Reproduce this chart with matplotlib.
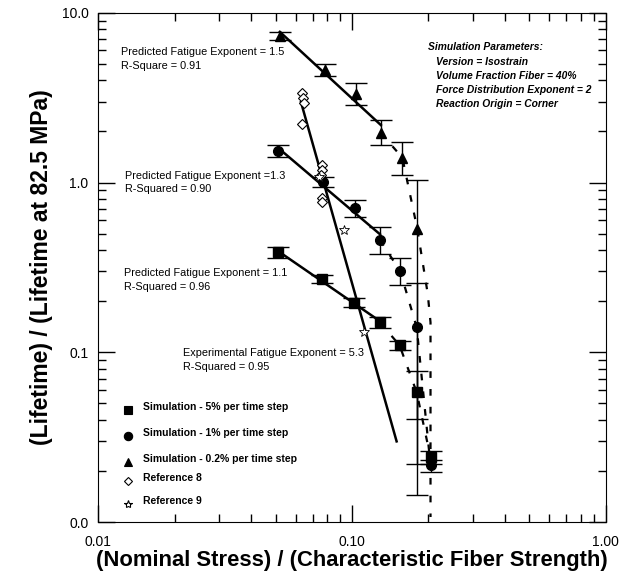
import numpy as np
import matplotlib
matplotlib.use("Agg")
import matplotlib.pyplot as plt
from matplotlib.ticker import FixedLocator, LogLocator, NullFormatter

plt.rcParams['font.family'] = ['Liberation Sans', 'DejaVu Sans']

# Simulation - 5% per time step (squares)
sq_x = [0.051, 0.076, 0.102, 0.129, 0.154, 0.180, 0.204]
sq_y = [0.389, 0.270, 0.195, 0.150, 0.110, 0.058, 0.024]
sq_lo = [0.359, 0.255, 0.184, 0.139, 0.103, 0.0403, 0.0221]
sq_hi = [0.416, 0.285, 0.208, 0.161, 0.116, 0.0773, 0.0261]

# Simulation - 1% per time step (circles)
ci_x = [0.051, 0.077, 0.103, 0.129, 0.155, 0.180, 0.204]
ci_y = [1.53, 1.01, 0.707, 0.458, 0.300, 0.140, 0.0216]
ci_lo = [1.41, 0.94, 0.626, 0.378, 0.248, 0.0221, 0.0196]
ci_hi = [1.66, 1.08, 0.789, 0.546, 0.359, 0.255, 0.0231]

# Simulation - 0.2% per time step (triangles)
tr_x = [0.052, 0.078, 0.104, 0.130, 0.158, 0.181]
tr_y = [7.32, 4.61, 3.33, 1.96, 1.40, 0.532]
tr_lo = [6.93, 4.25, 2.87, 1.66, 1.11, 0.0145]
tr_hi = [7.73, 5.00, 3.87, 2.34, 1.74, 1.04]

# dashed trend beyond the fitted range
tr_dash_x = [0.130, 0.158, 0.181, 0.199, 0.204, 0.204]
tr_dash_y = [1.96, 1.40, 0.532, 0.22, 0.15, 0.0107]
sq_dash_x = [0.129, 0.154, 0.180, 0.204]
sq_dash_y = [0.150, 0.110, 0.058, 0.024]
ci_dash_x = [0.129, 0.155, 0.180, 0.204]
ci_dash_y = [0.458, 0.300, 0.140, 0.0216]

# Reference 8 (diamonds), Reference 9 (stars)
r8_x = [0.0638, 0.0642, 0.0647, 0.0638, 0.0765, 0.0765, 0.0752, 0.0765, 0.0765]
r8_y = [3.37, 3.15, 2.94, 2.21, 1.27, 1.19, 1.11, 0.81, 0.77]
r9_x = [0.074, 0.0929, 0.112]
r9_y = [1.08, 0.525, 0.131]

n_fit = 4  # points used for the predicted exponent fits


def fit_line(x, y, n, xr=None):
    p = np.polyfit(np.log10(x[:n]), np.log10(y[:n]), 1)
    if xr is None:
        xr = [x[0], x[n - 1]]
    xx = np.array(xr)
    return xx, 10 ** np.polyval(p, np.log10(xx))


fig = plt.figure(figsize=(6.29, 5.80), dpi=100)
ax = fig.add_axes([0.156, 0.100, 0.807, 0.878])
ax.set_xscale('log')
ax.set_yscale('log')
ax.set_xlim(0.01, 1.0)
ax.set_ylim(0.01, 10.0)

ms = 7
for x, y, lo, hi, mk, dx, dy in [
        (sq_x, sq_y, sq_lo, sq_hi, 's', sq_dash_x, sq_dash_y),
        (ci_x, ci_y, ci_lo, ci_hi, 'o', ci_dash_x, ci_dash_y),
        (tr_x, tr_y, tr_lo, tr_hi, '^', tr_dash_x, tr_dash_y)]:
    y = np.array(y)
    err = [y - np.array(lo), np.array(hi) - y]
    ax.errorbar(x, y, yerr=err, fmt=mk, color='black', ms=ms,
                elinewidth=1.0, capsize=8, capthick=1.0, zorder=3)
    fx, fy = fit_line(x, y, n_fit)
    ax.plot(fx, fy, color='black', lw=1.8, zorder=2)
    ax.plot(dx, dy, color='black', lw=1.6, ls=(0, (3, 5)), zorder=2)

ax.plot(r8_x, r8_y, 'D', mfc='white', mec='black', ms=5, mew=0.8, zorder=4)
ax.plot(r9_x, r9_y, '*', mfc='white', mec='black', ms=7, mew=0.6, zorder=4)

# experimental fit through reference data
ex_x = np.array(r8_x + r9_x)
ex_y = np.array(r8_y + r9_y)
fx, fy = fit_line(ex_x, ex_y, len(ex_x), xr=[0.063, 0.150])
ax.plot(fx, fy, color='black', lw=1.8, zorder=2)

# annotations
fs = 7.8
ls = 1.45
ax.text(0.0123, 5.36, 'Predicted Fatigue Exponent = 1.5\nR-Square = 0.91',
        fontsize=fs, va='center', linespacing=ls)
ax.text(0.0128, 1.0, 'Predicted Fatigue Exponent =1.3\nR-Squared = 0.90',
        fontsize=fs, va='center', linespacing=ls)
ax.text(0.0126, 0.266, 'Predicted Fatigue Exponent = 1.1\nR-Squared = 0.96',
        fontsize=fs, va='center', linespacing=ls)
ax.text(0.0216, 0.0897, 'Experimental Fatigue Exponent = 5.3\nR-Squared = 0.95',
        fontsize=fs, va='center', linespacing=ls)

ax.text(0.199, 6.3, 'Simulation Parameters:', fontsize=7.4, weight='bold',
        style='italic', va='center')
params = ['Version = Isostrain', 'Volume Fraction Fiber = 40%',
          'Force Distribution Exponent = 2', 'Reaction Origin = Corner']
ax.text(0.2135, 3.86, '\n'.join(params), fontsize=7.4, weight='bold',
        style='italic', va='center', linespacing=1.5)

# legend drawn by hand
leg_marks = [('s', 'Simulation - 5% per time step', 'black', 6),
             ('o', 'Simulation - 1% per time step', 'black', 6),
             ('^', 'Simulation - 0.2% per time step', 'black', 6),
             ('D', 'Reference 8', 'white', 4.5),
             ('*', 'Reference 9', 'white', 6)]
leg_y = [0.220, 0.169, 0.117, 0.080, 0.035]
for (mk, lab, fc, s), yy in zip(leg_marks, leg_y):
    ax.plot([0.059], [yy], mk, transform=ax.transAxes, mfc=fc, mec='black',
            ms=s, mew=0.8, clip_on=False)
    ax.text(0.088, yy + 0.006, lab, transform=ax.transAxes, fontsize=7.5,
            weight='bold', va='center')

# ticks
ax.tick_params(which='both', direction='in', top=True, right=True)
ax.tick_params(which='major', length=12, width=1, labelsize=10)
ax.tick_params(axis='x', which='major', pad=9)
ax.tick_params(axis='y', which='major', pad=7)
ax.tick_params(which='minor', length=6, width=1)
ax.xaxis.set_major_locator(FixedLocator([0.01, 0.1, 1.0]))
ax.yaxis.set_major_locator(FixedLocator([0.01, 0.1, 1.0, 10.0]))
ax.xaxis.set_minor_locator(LogLocator(base=10, subs=np.arange(2, 10)))
ax.yaxis.set_minor_locator(LogLocator(base=10, subs=np.arange(2, 10)))
ax.xaxis.set_minor_formatter(NullFormatter())
ax.yaxis.set_minor_formatter(NullFormatter())
ax.set_xticklabels(['0.01', '0.10', '1.00'])
ax.set_yticklabels(['0.0', '0.1', '1.0', '10.0'])

ax.set_xlabel('(Nominal Stress) / (Characteristic Fiber Strength)',
              fontsize=15.8, weight='bold', labelpad=1)
ax.set_ylabel('(Lifetime) / (Lifetime at 82.5 MPa)', fontsize=16.5,
              weight='bold', labelpad=6)

fig.savefig('out.png', dpi=100)
